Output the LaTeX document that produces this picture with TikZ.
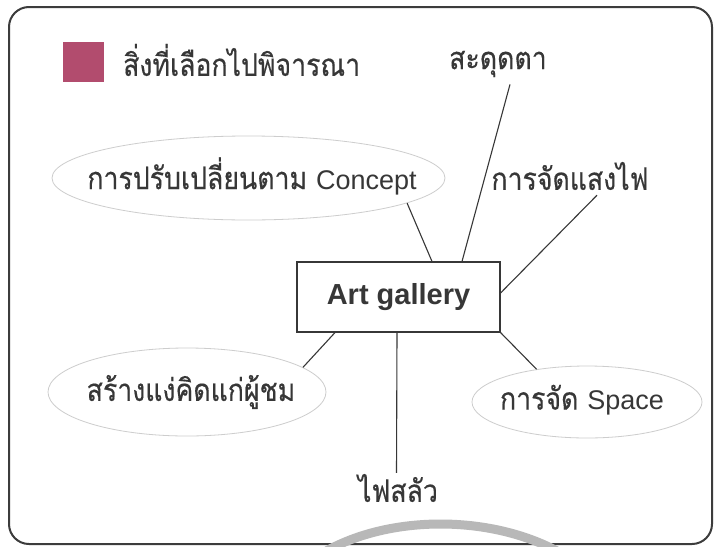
\documentclass[tikz,border=0pt]{standalone}
\usepackage{fontspec}
\setmainfont{Liberation Sans}
\newfontfamily\thaif[Script=Thai, FakeStretch=0.86, FakeBold=0.4]{Loma}
\usetikzlibrary{shapes.geometric}
\definecolor{txt}{RGB}{55,55,55}
\definecolor{legendc}{RGB}{178,76,110}
\definecolor{ellc}{RGB}{205,205,205}
\definecolor{framec}{RGB}{60,60,60}
\begin{document}
\begin{tikzpicture}[x=1pt,y=-1pt,
  every node/.style={text=txt, font=\fontsize{27}{30}\selectfont},
  th/.style={font=\thaif\fontsize{31}{34}\selectfont},
  bubble/.style={ellipse, draw=ellc, line width=0.8pt, inner sep=0pt},
  lbl/.style={inner sep=1pt},
  link/.style={draw=txt, line width=1.1pt}]
\useasboundingbox (0,0) rectangle (714,546);
\fill[white] (0,0) rectangle (714,546);
\draw[line width=2pt, draw=framec, rounded corners=20pt] (9,7) rectangle (712,544);
\draw[line width=9pt, draw=black!28] (312,560) .. controls (380,512) and (500,512) .. (572,560);
% legend
\node[fill=legendc, minimum width=41pt, minimum height=40pt, inner sep=0pt] (sq) at (83.5,62) {};
\node[lbl, th, anchor=west] (legtext) at (122,60) {สิ่งที่เลือกไปพิจารณา};
% nodes
\node[bubble, minimum width=393pt, minimum height=84pt] (e1) at (248.5,178) {};
\node[lbl, th] (e1t) at (252,176) {การปรับเปลี่ยนตาม\ {\normalfont\fontsize{27}{30}\selectfont Concept}};
\node[lbl, th] (t1) at (498,64) {สะดุดตา};
\node[lbl, th] (t2) at (570,176) {การจัดแสงไฟ};
\node[draw=txt, line width=1.1pt, minimum width=203pt, minimum height=70pt, inner sep=0pt,
      font=\bfseries\fontsize{29}{32}\selectfont] (box) at (398.5,297) {Art gallery};
\node[bubble, minimum width=278pt, minimum height=88pt] (e2) at (187,392) {};
\node[lbl, th] (e2t) at (191,392) {สร้างแง่คิดแก่ผู้ชม};
\node[bubble, minimum width=230pt, minimum height=72pt] (e3) at (587,402) {};
\node[lbl, th] (e3t) at (582,400) {การจัด\ {\normalfont\fontsize{27}{30}\selectfont Space}};
\node[lbl, th] (t3) at (398,488) {ไฟสลัว};
% links
\draw[link] (e1.-9.9) -- ([xshift=33.5pt]box.north);
\draw[link] ([xshift=12pt,yshift=-6pt]t1.south) -- ([xshift=63.5pt]box.north);
\draw[link] ([xshift=27pt,yshift=-4pt]t2.south) -- ([yshift=4pt]box.east);
\draw[link] ([xshift=-63.5pt]box.south) -- (e2.12.5);
\draw[link] ([xshift=-1.5pt]box.south) -- ([xshift=-1.5pt]t3.north);
\draw[link] (box.south east) -- (e3.147);
\end{tikzpicture}
\end{document}
